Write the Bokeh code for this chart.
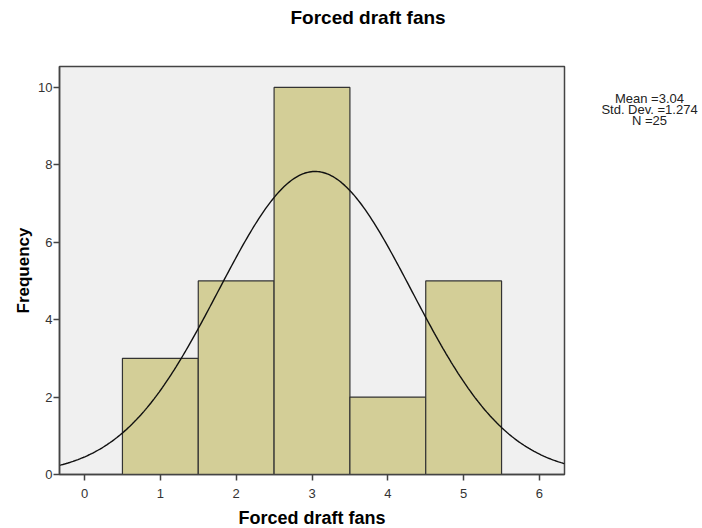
from bokeh.plotting import figure
from bokeh.models import Range1d, FixedTicker, ColumnDataSource, Title
from bokeh.layouts import row
from bokeh.core.properties import value
from bokeh.embed import file_html
from bokeh.resources import INLINE
import numpy as np

# Data
bin_centers = [1, 2, 3, 4, 5]
frequencies = [3, 5, 10, 2, 5]
x_ticks = [0, 1, 2, 3, 4, 5, 6]
y_ticks = [0, 2, 4, 6, 8, 10]
stat_mean = 3.04
stat_sd = 1.274
stat_n = 25
bin_width = 1.0
stat_lines = ["Mean =3.04", "Std. Dev. =1.274", "N =25"]
chart_title = "Forced draft fans"

FONT = "Liberation Sans"
H = 520
TOP, FRAME_H, BOTTOM = 66, 408, 46

p = figure(
    output_backend="svg", toolbar_location=None,
    width=576, height=H,
    frame_width=505, frame_height=FRAME_H,
    min_border_left=59, min_border_right=12, min_border_top=TOP, min_border_bottom=BOTTOM,
    x_range=Range1d(-0.33, 6.33), y_range=Range1d(0, 10.54),
    title=chart_title,
)

p.title.text_font = FONT
p.title.text_font_size = "19px"
p.title.text_font_style = "bold"
p.title.text_color = "#000000"
p.title.align = "left"
p.title.offset = 231
p.title.standoff = 0

# an empty title panel used as a spacer between the frame and the real title
p.add_layout(Title(text=" ", text_font_size="1px", standoff=36), "above")

p.background_fill_color = "#f0f0f0"
p.border_fill_color = "white"
p.outline_line_color = "#444444"
p.outline_line_width = 1.5
p.grid.visible = False

src = ColumnDataSource(dict(x=bin_centers, top=frequencies))
p.vbar(x="x", top="top", bottom=0, width=bin_width, source=src,
       fill_color="#d3ce97", line_color="#333333", line_width=1.2)

xs = np.linspace(-0.33, 6.33, 300)
ys = stat_n * bin_width / (stat_sd * np.sqrt(2 * np.pi)) * np.exp(-0.5 * ((xs - stat_mean) / stat_sd) ** 2)
p.line(xs, ys, line_color="#111111", line_width=1.4)

for ax in (p.xaxis[0], p.yaxis[0]):
    ax.axis_line_color = "#444444"
    ax.axis_line_width = 1.5
    ax.major_tick_line_color = "#444444"
    ax.major_tick_line_width = 1.5
    ax.major_tick_out = 6
    ax.major_tick_in = 0
    ax.minor_tick_line_color = None
    ax.major_label_text_font = FONT
    ax.major_label_text_font_size = "13px"
    ax.major_label_text_color = "#333333"
    ax.axis_label_text_font = FONT
    ax.axis_label_text_font_style = "bold"
    ax.axis_label_text_color = "#000000"

p.xaxis.axis_label_text_font_size = "18px"
p.yaxis.axis_label_text_font_size = "17px"
p.xaxis.ticker = FixedTicker(ticks=x_ticks)
p.yaxis.ticker = FixedTicker(ticks=y_ticks)
p.xaxis.axis_label = "Forced draft fans"
p.yaxis.axis_label = "Frequency"
p.xaxis.major_label_standoff = 8
p.xaxis.axis_label_standoff = 7
p.yaxis.major_label_standoff = 1
p.yaxis.axis_label_standoff = 2

# Side panel holding the summary statistics (its frame lines up with the main frame;
# y here is measured in pixels upward from the frame bottom)
side_w = 126
q = figure(
    output_backend="svg", toolbar_location=None,
    width=side_w, height=H, frame_width=side_w, frame_height=FRAME_H,
    min_border_left=0, min_border_right=0, min_border_top=TOP, min_border_bottom=BOTTOM,
    x_range=Range1d(0, side_w), y_range=Range1d(0, FRAME_H),
)
q.axis.visible = False
q.grid.visible = False
q.outline_line_color = None
q.background_fill_color = "white"
q.border_fill_color = "white"
frame_bottom_px = TOP + FRAME_H
stat_px_y = [frame_bottom_px - 97.5, frame_bottom_px - 108.5, frame_bottom_px - 119.5]
q.text(x=[73] * 3, y=stat_px_y, text=stat_lines, text_align="center", text_baseline="middle",
       text_font=value(FONT), text_font_size="13px", text_color="#222222")

layout = row(p, q, spacing=0)
open("out.html", "w").write(file_html(layout, INLINE))
